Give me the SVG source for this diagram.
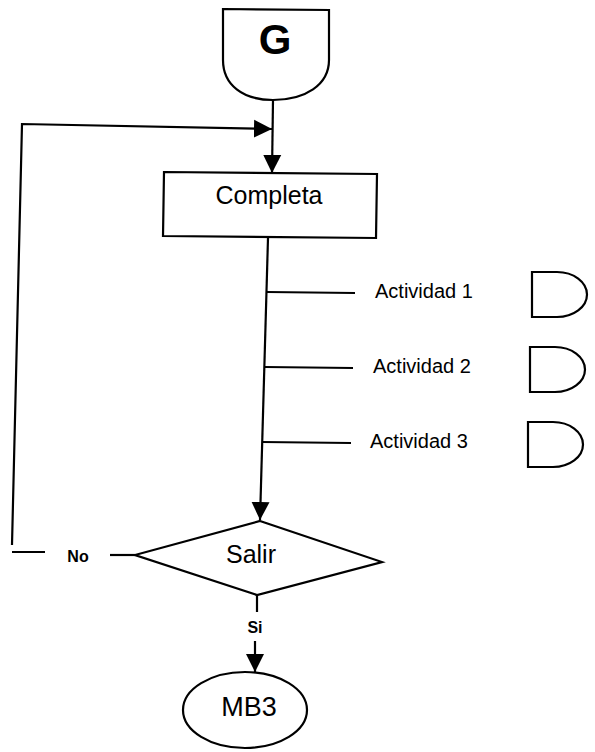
<svg xmlns="http://www.w3.org/2000/svg" width="595" height="752" viewBox="0 0 595 752">
<style>
.s{fill:none;stroke:#000;stroke-width:2.2}
.n{fill:#fff;stroke:#000;stroke-width:2.2}
.t{font-family:"Liberation Sans",Arial,sans-serif;fill:#000}
</style>
<defs>
<marker id="ab" viewBox="0 0 10 10" refX="10" refY="5" markerWidth="18" markerHeight="20" markerUnits="userSpaceOnUse" orient="auto">
<path d="M0,0 L10,5 L0,10 Z" fill="#000"/>
</marker>
</defs>
<rect width="595" height="752" fill="#fff"/>
<g id="connectors">
<path class="s" d="M273,100 L272,173" marker-end="url(#ab)"/>
<path class="s" d="M12,545 L22,124 L272,129" marker-end="url(#ab)"/>
<path class="s" d="M268,238 L260,520" marker-end="url(#ab)"/>
<path class="s" d="M267,292 L355,293"/>
<path class="s" d="M265,367 L353,368"/>
<path class="s" d="M262,442 L351,443"/>
<path class="s" d="M135,555 L110,555"/>
<path class="s" d="M45,552 L12,552"/>
<path class="s" d="M257,595 L257,612"/>
<path class="s" d="M255,641 L255,672" marker-end="url(#ab)"/>
<text class="t" x="78" y="562" font-size="16" font-weight="bold" text-anchor="middle">No</text>
<text class="t" x="255" y="633" font-size="16" font-weight="bold" text-anchor="middle">Si</text>
</g>
<g id="G">
<path class="n" d="M223,9 L329,10 L329,60 C329,85 305,100 273,100 C243,100 223,85 223,60 Z"/>
<text class="t" x="275" y="54" font-size="42" font-weight="bold" text-anchor="middle">G</text>
</g>
<g id="completa">
<path class="n" d="M164,172 L377,174 L376,238 L163,236 Z"/>
<text class="t" x="269" y="204" font-size="25" text-anchor="middle">Completa</text>
</g>
<g id="act1">
<text class="t" x="375" y="298" font-size="20">Actividad 1</text>
<path class="n" d="M532,272 L557,272 A30,22.5 0 0 1 557,317 L532,317 Z"/>
</g>
<g id="act2">
<text class="t" x="373" y="373" font-size="20">Actividad 2</text>
<path class="n" d="M530,347 L555,347 A30,22.5 0 0 1 555,392 L530,392 Z"/>
</g>
<g id="act3">
<text class="t" x="370" y="448" font-size="20">Actividad 3</text>
<path class="n" d="M528,422 L553,422 A30,22.5 0 0 1 553,467 L528,467 Z"/>
</g>
<g id="salir">
<path class="n" d="M260,521 L382,562 L257,595 L135,555 Z"/>
<text class="t" x="251" y="563" font-size="25" text-anchor="middle">Salir</text>
</g>
<g id="mb3">
<ellipse class="n" cx="245" cy="710" rx="62" ry="38"/>
<text class="t" x="249" y="716" font-size="27" text-anchor="middle">MB3</text>
</g>
</svg>
